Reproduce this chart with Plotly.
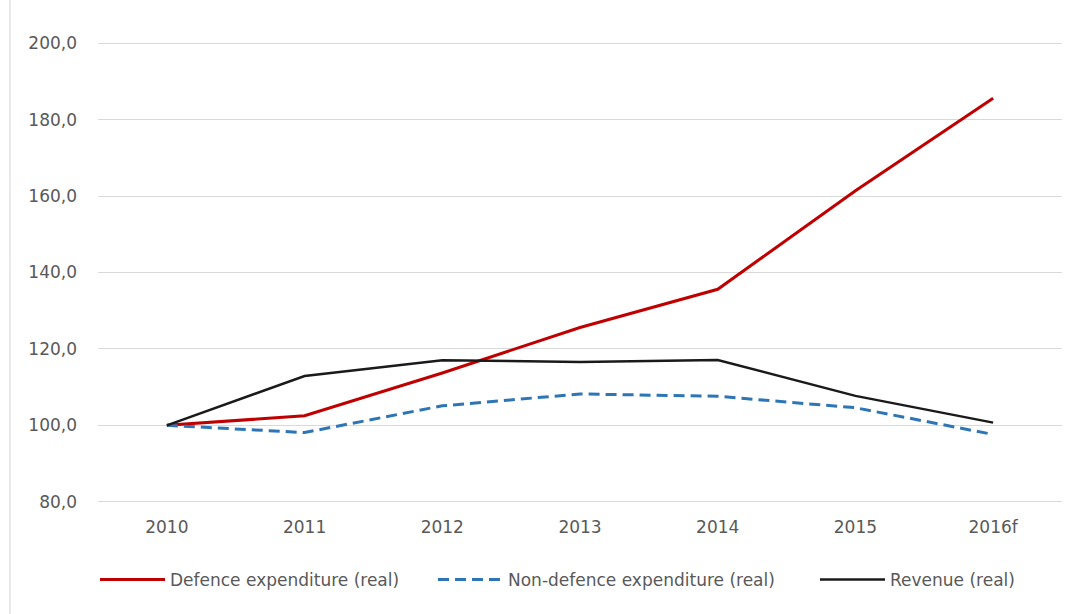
import plotly.graph_objects as go

years = ["2010", "2011", "2012", "2013", "2014", "2015", "2016f"]
defence = [100.0, 102.5, 113.7, 125.6, 135.6, 161.4, 185.6]
non_defence = [100.0, 98.1, 105.1, 108.2, 107.6, 104.6, 97.6]
revenue = [100.0, 112.9, 117.0, 116.6, 117.1, 107.7, 100.7]

y_ticks = [80, 100, 120, 140, 160, 180, 200]

FONT = "DejaVu Sans"
TXT = "#595959"
FS = 17

fig = go.Figure()
fig.add_trace(go.Scatter(x=years, y=defence, mode="lines", name="Defence expenditure (real)",
                         line=dict(color="#C00000", width=3), legend="legend"))
fig.add_trace(go.Scatter(x=years, y=non_defence, mode="lines", name="Non-defence expenditure (real)",
                         line=dict(color="#2E75B6", width=3, dash="11px,6px"), legend="legend2"))
fig.add_trace(go.Scatter(x=years, y=revenue, mode="lines", name="Revenue (real)",
                         line=dict(color="#1A1A1A", width=2.5), legend="legend3"))

leg_common = dict(orientation="h", yanchor="middle", xanchor="left", font=dict(family=FONT, size=FS, color=TXT),
                  bgcolor="rgba(0,0,0,0)", itemwidth=65, xref="container", yref="container")

fig.update_layout(
    width=1086, height=614,
    margin=dict(l=98, r=24, t=41, b=110),
    paper_bgcolor="white", plot_bgcolor="white",
    separators=",.",
    font=dict(family=FONT, size=FS, color=TXT),
    xaxis=dict(type="category", range=[-0.5, len(years) - 0.5], showgrid=False, showline=False,
               zeroline=False, ticks="", tickfont=dict(family=FONT, size=FS, color=TXT),
               ticklabelstandoff=11),
    yaxis=dict(range=[79.4, 200.6], tickvals=y_ticks, tickformat=".1f", showgrid=True,
               gridcolor="#D9D9D9", gridwidth=1, zeroline=False, showline=False, ticks="",
               tickfont=dict(family=FONT, size=FS, color=TXT), ticklabelstandoff=20),
    legend=dict(x=95 / 1086, y=1 - 580 / 614, **leg_common),
    legend2=dict(x=433 / 1086, y=1 - 580 / 614, **leg_common),
    legend3=dict(x=815 / 1086, y=1 - 580 / 614, **leg_common),
    showlegend=True,
)

fig.add_shape(type="line", xref="paper", yref="paper", x0=-88 / 964, x1=-88 / 964, y0=-0.3, y1=1.2,
              line=dict(color="#E3E3E3", width=1.5))

fig.write_html("out.html")
